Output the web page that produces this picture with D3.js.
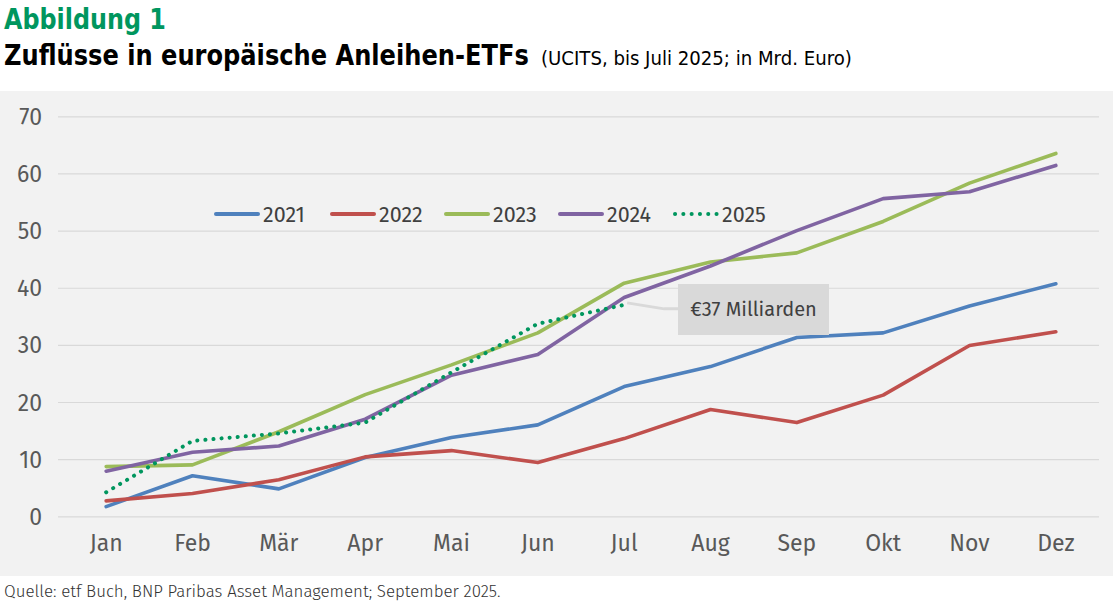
<!DOCTYPE html>
<html><head><meta charset="utf-8">
<script src="https://cdn.jsdelivr.net/npm/d3@7"></script>
<style>
html,body{margin:0;padding:0;background:#fff;}
svg{display:block;}
</style></head>
<body><svg id="c" width="1113" height="603"></svg>
<script>
const months = ["Jan","Feb","Mär","Apr","Mai","Jun","Jul","Aug","Sep","Okt","Nov","Dez"];
const years = ["2021","2022","2023","2024","2025"];
const v2021 = [1.7, 7.1, 4.8, 10.3, 13.8, 16.0, 22.7, 26.2, 31.3, 32.1, 36.8, 40.7];
const v2022 = [2.7, 4.0, 6.4, 10.4, 11.5, 9.4, 13.6, 18.7, 16.4, 21.2, 29.9, 32.3];
const v2023 = [8.7, 9.0, 14.8, 21.3, 26.5, 32.1, 40.8, 44.5, 46.1, 51.6, 58.3, 63.5];
const v2024 = [7.9, 11.2, 12.3, 17.0, 24.7, 28.3, 38.3, 43.8, 50.0, 55.6, 56.8, 61.4];
const v2025 = [4.2, 13.2, 14.5, 16.4, 25.2, 33.7, 37.0];
const yTicks = [0,10,20,30,40,50,60,70];
const calloutText = "€37 Milliarden";

const seriesValues = [v2021, v2022, v2023, v2024, v2025];
const colors = ["#4f81bd","#c0504d","#9bbb59","#8064a2","#00965e"];
const dashed = [false,false,false,false,true];

const svg = d3.select("#c");
const font = "'Fira Sans','Open Sans','Noto Sans',sans-serif";
const titleFont = "'DejaVu Sans Condensed','Liberation Sans Narrow',sans-serif";

// fit a text horizontally into a target width via a horizontal scale
function fitText(x0, y0, str, size, weight, fill, fam, target){
  const g = svg.append("g");
  const t = g.append("text").attr("x",0).attr("y",0).text(str)
    .attr("font-family",fam).attr("font-weight",weight).attr("font-size",size).attr("fill",fill);
  const w = t.node().getComputedTextLength();
  const sx = target / w;
  g.attr("transform",`translate(${x0},${y0}) scale(${sx},1)`);
  return t;
}

// Header
fitText(4, 29, "Abbildung 1", 29, "bold", "#00965e", titleFont, 162);
fitText(4, 65, "Zuflüsse in europäische Anleihen-ETFs", 29, "bold", "#000", titleFont, 525);
fitText(541, 65, "(UCITS, bis Juli 2025; in Mrd. Euro)", 20, "normal", "#000", titleFont, 311);

// plot background
svg.append("rect").attr("x",0).attr("y",91).attr("width",1113).attr("height",485).attr("fill","#f2f2f2");

const x = d3.scaleBand().domain(months).range([63,1099]).padding(0);
const xc = m => x(m) + x.bandwidth()/2;
const y = d3.scaleLinear().domain([0,70]).range([516.3,116.3]);

// Y axis with gridlines
const ya = svg.append("g").attr("transform","translate(58,0)")
  .call(d3.axisLeft(y).tickValues(yTicks).tickSize(-(1099-58)).tickPadding(16).tickFormat(d3.format("d")));
ya.select(".domain").remove();
ya.selectAll("line").attr("stroke","#d9d9d9").attr("stroke-width",1.2);
ya.selectAll("text").attr("font-family",font).attr("font-size",23).attr("fill","#595959").attr("dy","0.35em");

// X axis
const xa = svg.append("g").attr("transform","translate(0,516.3)").call(d3.axisBottom(x).tickSize(0).tickPadding(18));
xa.select(".domain").remove();
xa.selectAll("text").attr("font-family",font).attr("font-size",23).attr("fill","#595959").attr("font-weight",400);

// Lines
const line = d3.line().x((d,i)=>xc(months[i])).y(d=>y(d));
seriesValues.forEach((vals,k)=>{
  const p = svg.append("path").datum(vals).attr("d",line).attr("fill","none")
    .attr("stroke",colors[k]).attr("stroke-width",dashed[k]?4:3.6).attr("stroke-linejoin","round");
  if(dashed[k]) p.attr("stroke-dasharray","0.1 8").attr("stroke-linecap","round");
  else p.attr("stroke-linecap","round");
});

// Callout
const jx = xc(months[6]), jy = y(v2025[6]);
svg.append("path").attr("d",`M${jx+3},${jy-2} L${jx+40},${jy+4} L${jx+56},${jy+4}`)
  .attr("fill","none").attr("stroke","#d9d9d9").attr("stroke-width",3);
svg.append("rect").attr("x",678).attr("y",284).attr("width",151).attr("height",51).attr("fill","#d9d9d9");
svg.append("text").attr("x",753.5).attr("y",316).attr("text-anchor","middle").text(calloutText)
  .attr("font-family",font).attr("font-size",20).attr("fill","#404040");

// Legend
const legX = [214,330,444,558,673];
years.forEach((yr,k)=>{
  const g = svg.append("g").attr("transform",`translate(${legX[k]},214)`);
  const l = g.append("line").attr("x1",2).attr("x2",44).attr("y1",0).attr("y2",0)
    .attr("stroke",colors[k]).attr("stroke-width",4).attr("stroke-linecap","round");
  if(dashed[k]) l.attr("stroke-dasharray","0.1 8.2").attr("x1",2).attr("x2",44);
  g.append("text").attr("x",49).attr("y",0).attr("dy","0.35em").text(yr)
    .attr("font-family",font).attr("font-size",21.5).attr("fill","#404040");
});

// Footer
fitText(4, 597, "Quelle: etf Buch, BNP Paribas Asset Management; September 2025.", 17, 300, "#333", font, 497);
</script>
</body></html>
